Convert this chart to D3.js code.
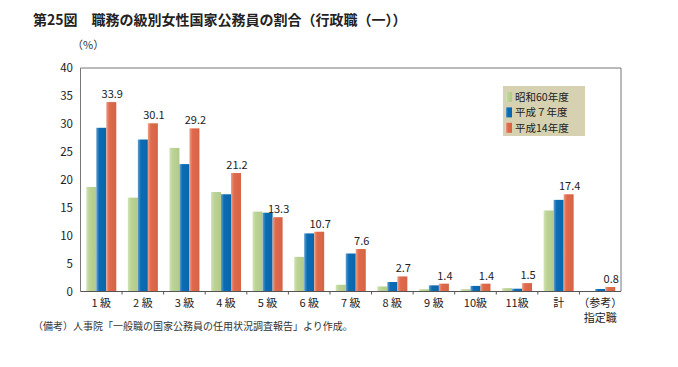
<!DOCTYPE html>
<html><head><meta charset="utf-8">
<script src="https://cdn.jsdelivr.net/npm/d3@7"></script>
<style>body{margin:0;background:#fff;} svg{display:block;font-family:"Noto Sans CJK JP","Noto Sans",sans-serif;}</style>
</head><body><svg id="c" width="678" height="367"></svg>
<script>
const categories = ["1 級","2 級","3 級","4 級","5 級","6 級","7 級","8 級","9 級","10級","11級","計","（参考）\n指定職"];
const seriesNames = ["昭和60年度","平成７年度","平成14年度"];
const s1985 = [18.7,16.8,25.7,17.8,14.3,6.2,1.2,0.9,0.4,0.4,0.6,14.5,0.1];
const s1995 = [29.3,27.2,22.8,17.4,14.1,10.4,6.8,1.7,1.1,1.0,0.5,16.4,0.45];
const s2002 = [33.9,30.1,29.2,21.2,13.3,10.7,7.6,2.7,1.4,1.4,1.5,17.4,0.8];
const yTicks = [0,5,10,15,20,25,30,35,40];
const colors = ["#bcd494","#0b6cb4","#e06a4a"];

const svg = d3.select("#c");
const L=80.5, R=621, T=68, B=291.5;
const x = d3.scaleBand().domain(categories).range([L,R]);
const y = d3.scaleLinear().domain([0,40]).range([B,T]);
const series=[s1985,s1995,s2002];
const bw=10;
const xs = d3.scaleBand().domain([0,1,2]).range([-15,15]);

const defs=svg.append("defs");
colors.forEach((c,i)=>{
  const g=defs.append("linearGradient").attr("id","g"+i).attr("x1","0").attr("x2","1");
  g.append("stop").attr("offset","0").attr("stop-color",d3.interpolateRgb(c,"#fff")(0.35));
  g.append("stop").attr("offset","0.3").attr("stop-color",c);
  g.append("stop").attr("offset","1").attr("stop-color",d3.color(c).darker(0.15));
});

svg.append("text").attr("x",33).attr("y",25).attr("font-size",14).attr("font-weight","bold").attr("fill","#222")
  .text("第25図　職務の級別女性国家公務員の割合（行政職（一））");
svg.append("text").attr("x",72).attr("y",49).attr("font-size",11).attr("fill","#333").text("（%）");

svg.append("path").attr("d",`M${L},${B}V${T}H${R}V${B}`).attr("fill","none").attr("stroke","#777").attr("stroke-width",1);

svg.selectAll(".yt").data(yTicks).join("text").attr("x",73).attr("y",d=>y(d)+4).attr("text-anchor","end")
  .attr("font-size",11.5).attr("fill","#222").text(d=>d);

series.forEach((s,i)=>{
  svg.append("g").selectAll("rect").data(s).join("rect")
    .attr("x",(d,j)=>x(categories[j])+x.bandwidth()/2+xs(i))
    .attr("width",bw)
    .attr("y",d=>y(d)).attr("height",d=>B-y(d))
    .attr("fill",`url(#g${i})`);
});

svg.append("line").attr("x1",L).attr("x2",R).attr("y1",B).attr("y2",B).attr("stroke","#555");
svg.selectAll(".xt").data(categories.slice(1)).join("line")
  .attr("x1",d=>x(d)).attr("x2",d=>x(d)).attr("y1",B).attr("y2",B+3).attr("stroke","#555");

svg.selectAll(".vl").data(s2002).join("text")
  .attr("x",(d,j)=>x(categories[j])+x.bandwidth()/2+xs(2)+bw/2+1)
  .attr("y",d=>y(d)-4).attr("text-anchor","middle").attr("font-size",11).attr("fill","#222")
  .text(d=>d.toFixed(1));

categories.forEach(c=>{
  const lines=c.split("\n");
  const t=svg.append("text").attr("text-anchor","middle").attr("font-size",11).attr("fill","#222");
  lines.forEach((ln,k)=>t.append("tspan").attr("x",x(c)+x.bandwidth()/2).attr("y",307+k*15).text(ln));
});

const lg=svg.append("g");
const rs=15.4;
lg.append("rect").attr("x",503).attr("y",86).attr("width",82).attr("height",50).attr("fill","#d6d1b1");
seriesNames.forEach((n,i)=>{
  lg.append("rect").attr("x",506).attr("y",92+i*rs).attr("width",6).attr("height",10).attr("fill",`url(#g${i})`);
  lg.append("text").attr("x",515).attr("y",101+i*rs).attr("font-size",10.5).attr("fill","#222").text(n);
});

svg.append("text").attr("x",33).attr("y",330).attr("font-size",10).attr("fill","#333")
  .text("（備考）人事院「一般職の国家公務員の任用状況調査報告」より作成。");
</script></body></html>
